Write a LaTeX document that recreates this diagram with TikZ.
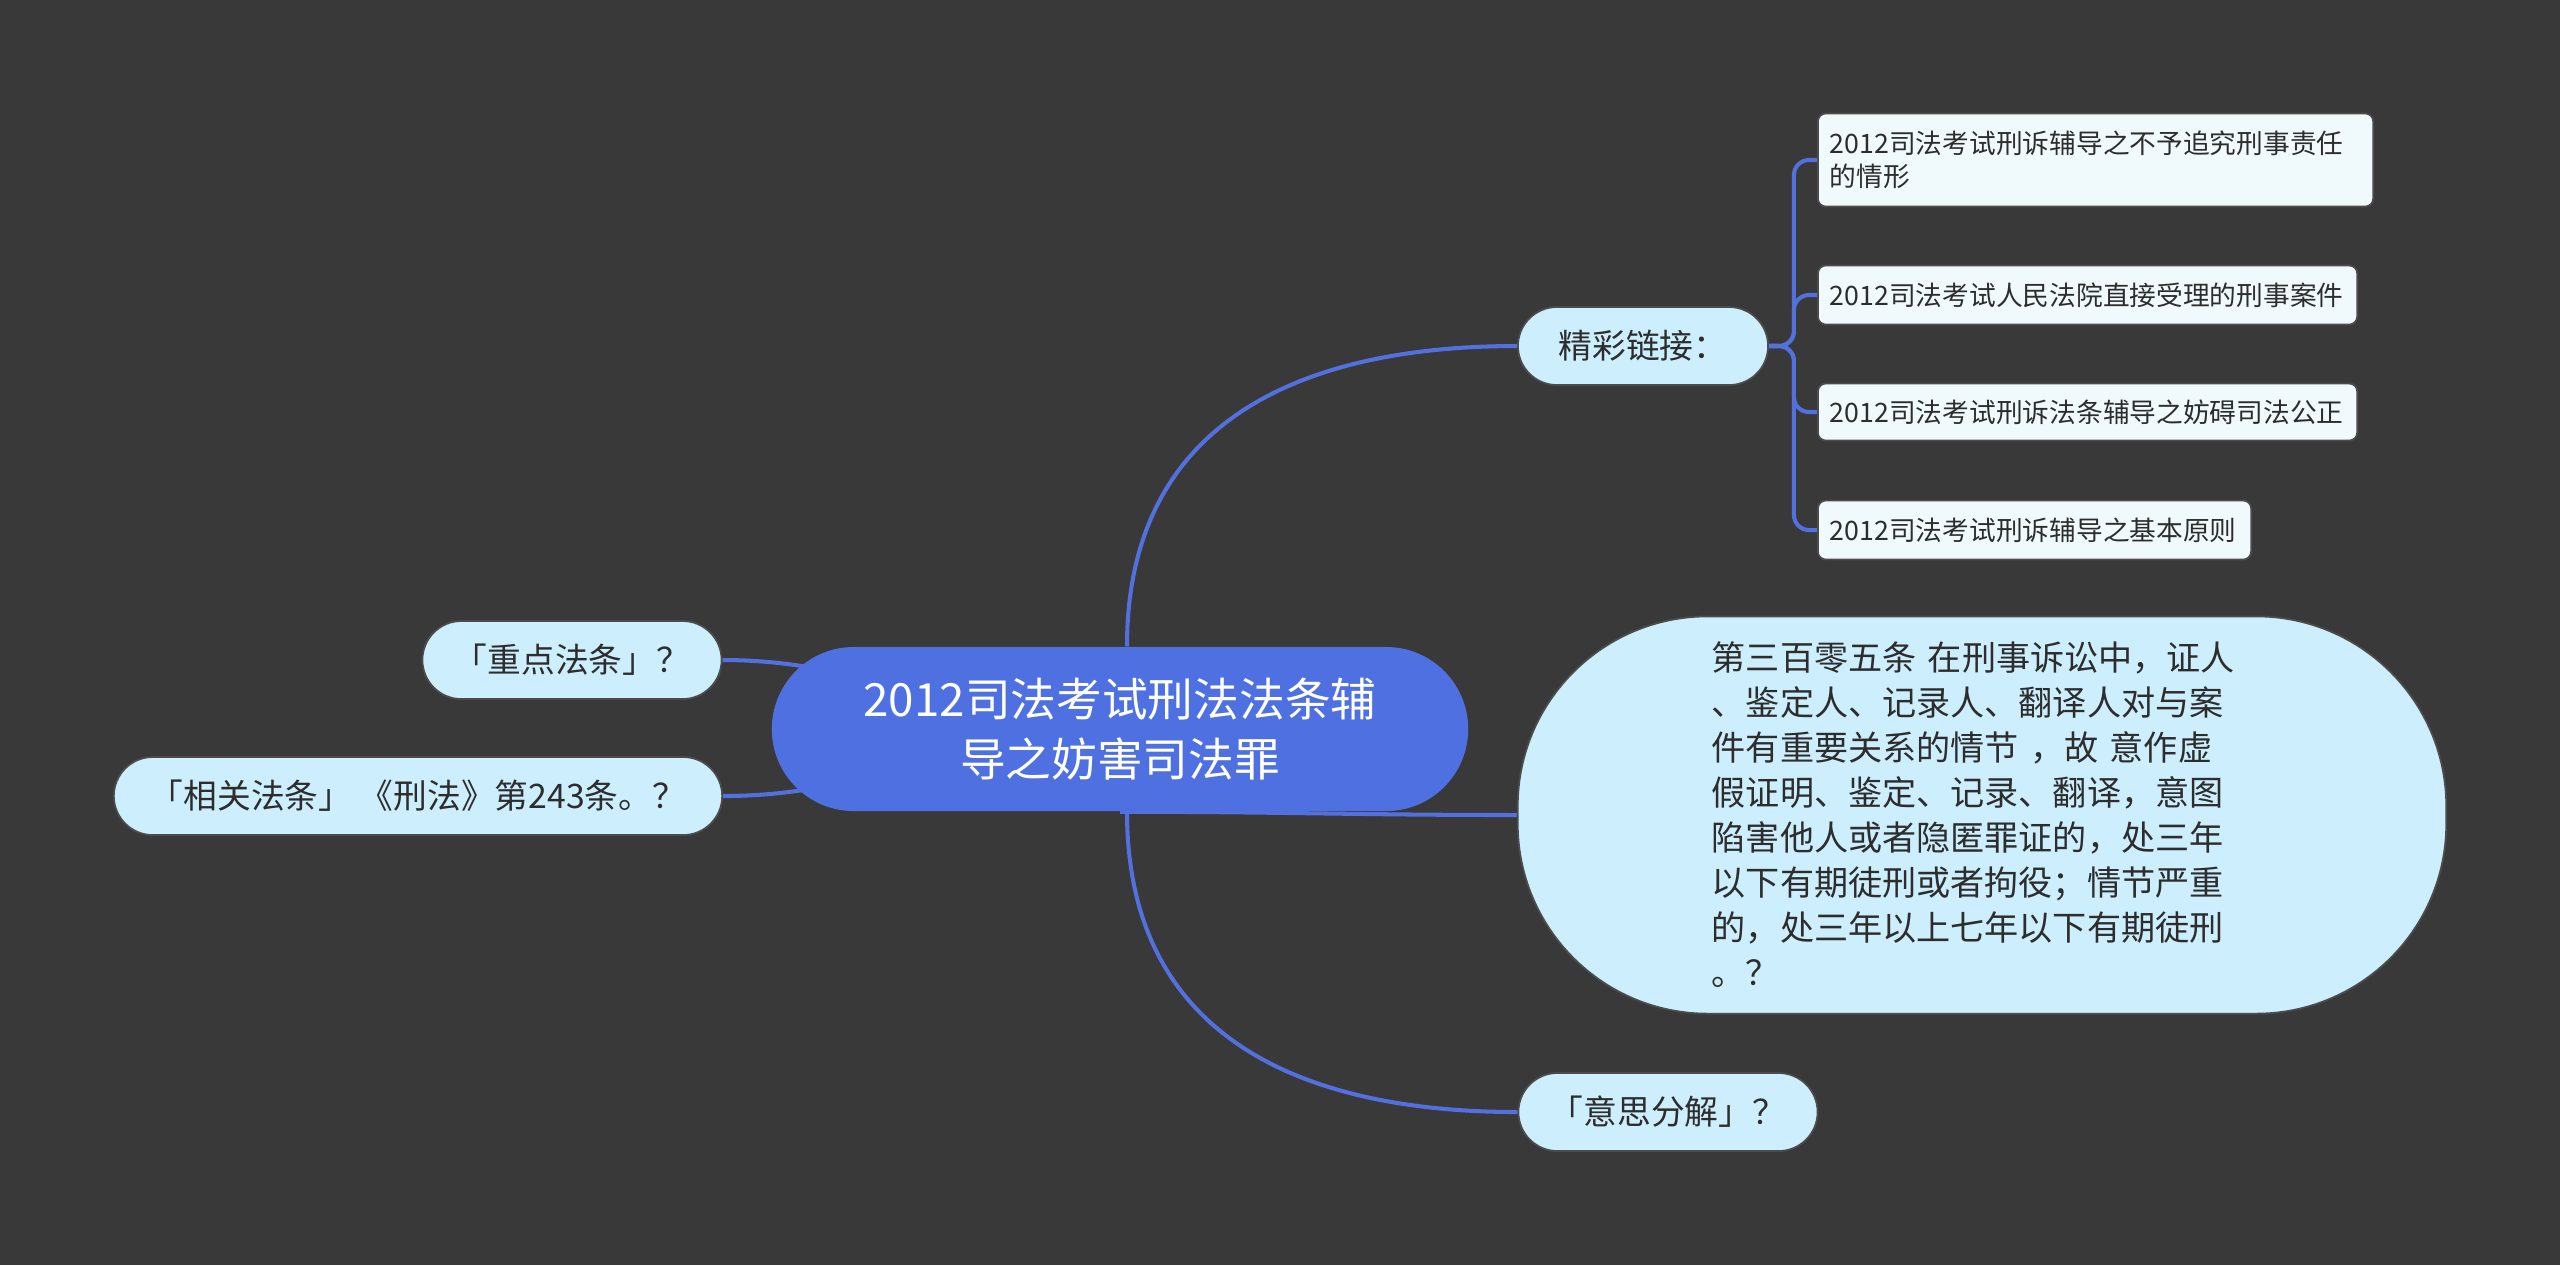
\documentclass[tikz,border=0pt]{standalone}
\usepackage{fontspec}
\setmainfont{Noto Sans CJK SC}
\usetikzlibrary{backgrounds}
\definecolor{bgdark}{RGB}{58,57,58}
\definecolor{rootblue}{RGB}{78,112,224}
\definecolor{topicfill}{RGB}{204,238,253}
\definecolor{leaffill}{RGB}{240,250,253}
\definecolor{edgeblue}{RGB}{82,112,222}
\definecolor{inktext}{RGB}{45,45,45}

\begin{document}
\begin{tikzpicture}[
    x=0.01cm, y=-0.01cm,
    root/.style={rectangle, rounded corners=0.82cm, fill=rootblue, text=white,
                 minimum width=6.96cm, minimum height=1.64cm, align=center,
                 font=\fontsize{13}{17}\selectfont},
    topic/.style={rectangle, rounded corners=0.39cm, fill=topicfill,
                  draw=black!70, line width=0.5pt, text=inktext,
                  minimum height=0.78cm, font=\fontsize{9.6}{12}\selectfont},
    leaf/.style={rectangle, rounded corners=0.08cm, fill=leaffill,
                 draw=black!70, line width=0.5pt, text=inktext, anchor=west,
                 align=left, inner xsep=0.12cm,
                 font=\fontsize{7.6}{9.4}\selectfont},
    branch/.style={draw=edgeblue, line width=1.15pt}
  ]
  % Central topic
  \node[root] (root) at (1120,729) {2012司法考试刑法法条辅\\导之妨害司法罪};

  % Right side
  \node[topic, minimum width=2.5cm] (jclj) at (1643,346) {精彩链接：};
  \node[leaf, text width=5.31cm, minimum height=0.93cm] (l1) at (1817,160)
    {2012司法考试刑诉辅导之不予追究刑事责任\\的情形};
  \node[leaf, text width=5.15cm, minimum height=0.59cm] (l2) at (1817,295)
    {2012司法考试人民法院直接受理的刑事案件};
  \node[leaf, text width=5.15cm, minimum height=0.57cm] (l3) at (1817,412)
    {2012司法考试刑诉法条辅导之妨碍司法公正};
  \node[leaf, text width=4.09cm, minimum height=0.59cm] (l4) at (1817,530)
    {2012司法考试刑诉辅导之基本原则};

  \node[topic, minimum width=9.28cm, minimum height=3.97cm, rounded corners=1.9cm,
        text width=5.4cm, align=left, font=\fontsize{9.7}{12.8}\selectfont]
    (ftnr) at (1982,815)
    {第三百零五条 在刑事诉讼中，证人\\、鉴定人、记录人、翻译人对与案\\件有重要关系的情节 ，故 意作虚\\假证明、鉴定、记录、翻译，意图\\陷害他人或者隐匿罪证的，处三年\\以下有期徒刑或者拘役；情节严重\\的，处三年以上七年以下有期徒刑\\。？};
  \node[topic, minimum width=2.99cm] (yszj) at (1668,1112) {「意思分解」？};

  % Left side
  \node[topic, minimum width=2.99cm] (zdfs) at (572,660) {「重点法条」？};
  \node[topic, minimum width=6.08cm] (xgfs) at (418,796) {「相关法条」 《刑法》第243条。？};

  % Connectors behind the nodes
  \begin{scope}[on background layer]
    \fill[bgdark] (0,0) rectangle (2560,1265);
    \draw[branch] ([xshift=0.07cm]root.north) to[out=90, in=180, looseness=1.15] (jclj.west);
    \draw[branch] ([xshift=0.07cm]root.south) to[out=-90, in=180, looseness=1.15] (yszj.west);
    \draw[branch] (root.south) to[out=0, in=180] (ftnr.west);
    \draw[branch] (zdfs.east) to[out=0, in=180] (root.center);
    \draw[branch] (xgfs.east) to[out=0, in=180] (root.center);
    \draw[branch, rounded corners=0.15cm] (jclj.east) -- ++(25,0) |- (l1.west);
    \draw[branch, rounded corners=0.15cm] (jclj.east) -- ++(25,0) |- (l2.west);
    \draw[branch, rounded corners=0.15cm] (jclj.east) -- ++(25,0) |- (l3.west);
    \draw[branch, rounded corners=0.15cm] (jclj.east) -- ++(25,0) |- (l4.west);
  \end{scope}
\end{tikzpicture}
\end{document}
